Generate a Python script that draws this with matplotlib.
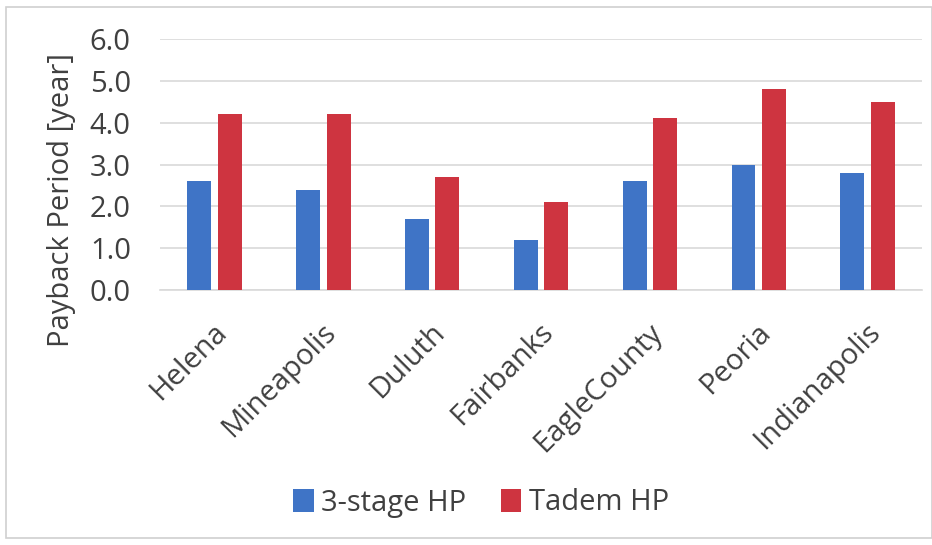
import matplotlib.pyplot as plt
import matplotlib.patches as mpatches
import numpy as np

cities = ['Helena', 'Mineapolis', 'Duluth', 'Fairbanks', 'EagleCounty', 'Peoria', 'Indianapolis']
three_stage = [2.6, 2.4, 1.7, 1.2, 2.6, 3.0, 2.8]
tandem = [4.2, 4.2, 2.7, 2.1, 4.1, 4.8, 4.5]
series_names = ['3-stage HP', 'Tadem HP']

blue = '#3F74C6'
red = '#CE3440'
text_col = '#404040'

plt.rcParams['font.family'] = ['Open Sans', 'DejaVu Sans']

fig = plt.figure(figsize=(9.32, 5.45), dpi=100)
ax = fig.add_axes([160 / 932, 1 - 290 / 545, 762 / 932, 251 / 545])

# chart frame
fig.patches.append(mpatches.Rectangle((6 / 932, 7 / 545), 926 / 932, 531 / 545,
                                      transform=fig.transFigure, fill=False,
                                      edgecolor='#D0D0D0', linewidth=1.2))

x = np.arange(len(cities))
w = 0.22
ax.bar(x - 0.14, three_stage, w, color=blue, label=series_names[0], zorder=3)
ax.bar(x + 0.14, tandem, w, color=red, label=series_names[1], zorder=3)

ax.set_xlim(-0.5, len(cities) - 0.5)
ax.set_ylim(0, 6)
ax.set_yticks(np.arange(0, 6.5, 1.0))
ax.set_yticklabels([f'{v:.1f}' for v in np.arange(0, 6.5, 1.0)])
ax.grid(axis='y', color='#D9D9D9', linewidth=1.2, zorder=0)

for s in ['top', 'right', 'left']:
    ax.spines[s].set_visible(False)
ax.spines['bottom'].set_color('#D9D9D9')
ax.spines['bottom'].set_linewidth(1.2)
ax.tick_params(axis='both', length=0, labelsize=21, colors=text_col)
ax.tick_params(axis='y', pad=21)

ax.set_xticks(x - 0.02)
ax.set_xticklabels(cities, rotation=45, ha='right', rotation_mode='anchor')
ax.tick_params(axis='x', pad=20)

ax.set_ylabel('Payback Period [year]', fontsize=21, color=text_col)
ax.yaxis.set_label_coords(-0.11, 0.36)

fig.legend(loc='center', bbox_to_anchor=(481 / 932, 1 - 503 / 545), ncol=2, frameon=False,
           fontsize=21, handlelength=0.7, handleheight=0.85, handletextpad=0.25,
           columnspacing=1.2, labelcolor=text_col)

fig.savefig('out.png', dpi=100)
